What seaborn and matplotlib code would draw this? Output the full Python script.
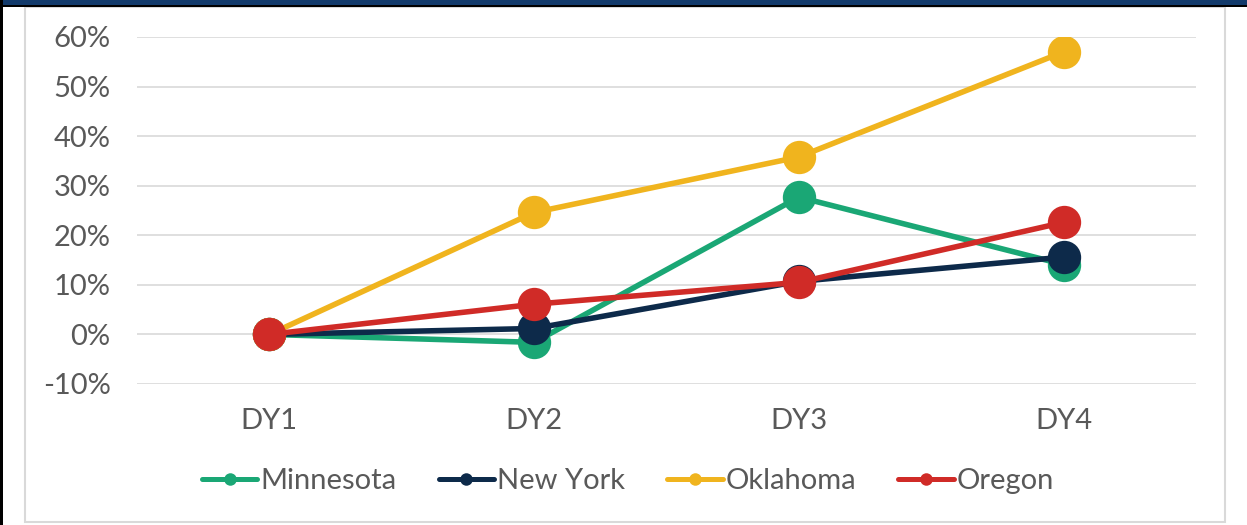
import matplotlib
matplotlib.use("Agg")
import matplotlib.pyplot as plt
from matplotlib.lines import Line2D
from matplotlib.patches import Rectangle
from matplotlib.ticker import FuncFormatter, MultipleLocator
import seaborn as sns
import pandas as pd

# ---- data ----
years = ["DY1", "DY2", "DY3", "DY4"]
states = ["Minnesota", "New York", "Oklahoma", "Oregon"]
minnesota = [0.0, -0.016, 0.277, 0.141]
new_york = [0.0, 0.012, 0.107, 0.156]
oklahoma = [0.0, 0.246, 0.358, 0.570]
oregon = [0.0, 0.061, 0.105, 0.226]
colors = ["#1AA775", "#0D2A4A", "#F0B41E", "#D02B27"]

series = [minnesota, new_york, oklahoma, oregon]
df = pd.DataFrame({
    "year": [y for _ in states for y in years],
    "state": [s for s in states for _ in years],
    "value": [v for vals in series for v in vals],
})

sns.set_theme(style="white")
plt.rcParams["font.family"] = ["Lato", "DejaVu Sans"]
plt.rcParams["axes.unicode_minus"] = False

FS = 21
fig = plt.figure(figsize=(12.47, 5.25), dpi=100)
ax = fig.add_axes([137 / 1247, 1 - 384 / 525, (1196 - 137) / 1247, (384 - 37) / 525])

palette = dict(zip(states, colors))
sns.lineplot(data=df, x="year", y="value", hue="state", hue_order=states,
             palette=palette, marker="o", markersize=24, linewidth=4.0,
             markeredgewidth=0, legend=False, ax=ax, sort=False)

ax.set_xlim(-0.5, 3.5)
ax.set_ylim(-0.10, 0.60)
ax.yaxis.set_major_locator(MultipleLocator(0.10))
ax.yaxis.set_major_formatter(FuncFormatter(lambda v, p: f"{v:.0%}"))
ax.grid(axis="y", color="#D9D9D9", linewidth=1.2)
ax.grid(axis="x", visible=False)
ax.set_axisbelow(True)
for s in ax.spines.values():
    s.set_visible(False)
ax.tick_params(axis="both", length=0, labelsize=FS, labelcolor="#595959")
ax.tick_params(axis="y", pad=19)
ax.tick_params(axis="x", pad=17)
ax.set_xlabel("")
ax.set_ylabel("")

handles = [Line2D([0], [0], color=c, lw=3.6, marker="o", markersize=9,
                  markeredgewidth=0) for c in colors]
leg = fig.legend(handles, states, loc="center", bbox_to_anchor=(628 / 1247, 1 - 481 / 525),
                 ncol=4, frameon=False, fontsize=FS, handlelength=1.9,
                 handletextpad=0.1, columnspacing=1.45)
for t in leg.get_texts():
    t.set_color("#595959")

# ---- frame decorations ----
W, H = 1247, 525
fig.patches.append(Rectangle((0, 1 - 5 / H), 1, 5 / H, transform=fig.transFigure,
                             facecolor="#123A6B", edgecolor="none", zorder=10))
fig.patches.append(Rectangle((0, 1 - 6.5 / H), 1, 1.5 / H, transform=fig.transFigure,
                             facecolor="black", edgecolor="none", zorder=10))
fig.patches.append(Rectangle((0, 0), 2.5 / W, 1, transform=fig.transFigure,
                             facecolor="black", edgecolor="none", zorder=10))
fig.patches.append(Rectangle((24.5 / W, 1 - 522 / H), (1224.5 - 24.5) / W, (522 - 6.5) / H,
                             transform=fig.transFigure, facecolor="none",
                             edgecolor="#D9D9D9", linewidth=1.5, zorder=9))

fig.savefig("out.png", dpi=100)
